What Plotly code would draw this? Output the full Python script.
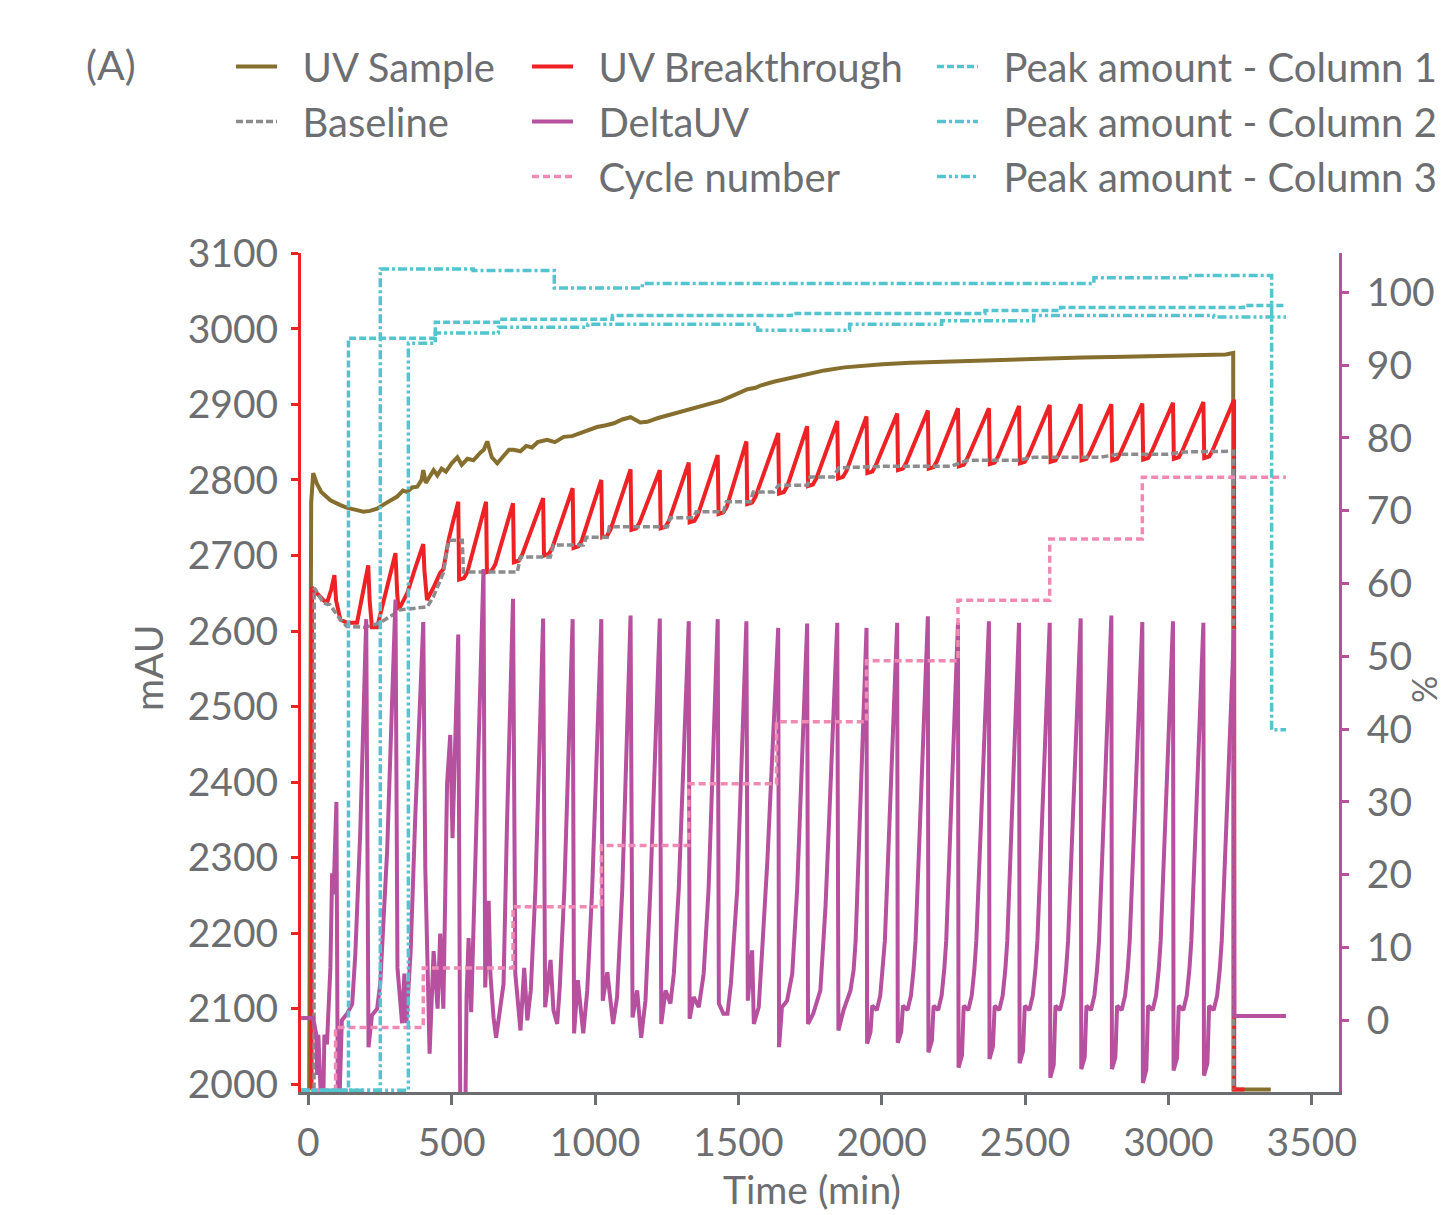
import plotly.graph_objects as go

# ---------------- data ----------------
# UV Sample (mAU, left axis)
uv_t = [3, 6, 10, 17, 30, 45, 77, 110, 136, 170, 192, 215, 240, 265, 286, 310, 330, 345, 362, 380,
        395, 401, 410, 425, 437, 450, 465, 480, 500, 520, 535, 555, 576, 600, 612, 624, 640, 659,
        680, 700, 716, 740, 760, 780, 800, 833, 860, 891, 920, 949, 975, 1007, 1035, 1066, 1095,
        1124, 1158, 1182, 1220, 1250, 1298, 1340, 1392, 1440, 1483, 1510, 1532, 1560, 1577, 1623,
        1680, 1741, 1800, 1870, 1950, 2003, 2100, 2250, 2400, 2550, 2700, 2850, 3000, 3100, 3200,
        3226, 3227, 3357]
uv_v = [1992, 2600, 2770, 2809, 2795, 2784, 2773, 2767, 2763, 2760, 2758, 2759, 2762, 2768, 2773,
        2778, 2786, 2784, 2790, 2791, 2800, 2813, 2796, 2805, 2813, 2806, 2815, 2811, 2822, 2830,
        2820, 2828, 2826, 2836, 2840, 2851, 2830, 2822, 2832, 2840, 2840, 2838, 2845, 2843, 2850,
        2853, 2850, 2857, 2858, 2862, 2865, 2870, 2872, 2875, 2880, 2883, 2876, 2877, 2882, 2885,
        2890, 2895, 2899, 2905, 2912, 2916, 2920, 2922, 2925, 2930, 2935, 2940, 2945, 2949, 2952,
        2953, 2955, 2957, 2959, 2961, 2962, 2963, 2964, 2965, 2966, 2968, 1993, 1993]

# UV Breakthrough (mAU, left axis)
bt_t = [11, 13, 22, 35, 52, 65, 80, 91, 97, 112, 135, 170, 190, 209, 214, 222, 240, 262, 275, 304,
        310, 315, 330, 345, 370, 401, 405, 414, 437, 460, 471, 489, 505,
        523, 526, 543, 555,
        620, 623, 640, 652,
        714, 717, 734, 746,
        819, 822, 839, 851,
        922, 925, 942, 954,
        1022, 1025, 1042, 1054,
        1124, 1127, 1144, 1156,
        1226, 1229, 1246, 1258,
        1327, 1330, 1347, 1359,
        1428, 1431, 1448, 1460,
        1528, 1531, 1548, 1560,
        1639, 1642, 1659, 1671,
        1740, 1743, 1760, 1772,
        1845, 1848, 1865, 1877,
        1947, 1950, 1967, 1979,
        2054, 2057, 2074, 2086,
        2161, 2164, 2181, 2193,
        2266, 2269, 2286, 2298,
        2374, 2377, 2394, 2406,
        2479, 2482, 2499, 2511,
        2586, 2589, 2606, 2618,
        2694, 2697, 2714, 2726,
        2801, 2804, 2821, 2833,
        2909, 2912, 2929, 2941,
        3016, 3019, 3036, 3048,
        3122, 3125, 3142, 3154,
        3229, 3229.5, 3265]
bt_v = [1993, 2658, 2652, 2648, 2641, 2637, 2655, 2674, 2640, 2615, 2611, 2611, 2650, 2687, 2640,
        2605, 2605, 2640, 2660, 2703, 2650, 2628, 2639, 2650, 2680, 2715, 2680, 2641, 2658, 2677,
        2682, 2720, 2745,
        2771, 2668, 2670, 2678,
        2771, 2678, 2680, 2688,
        2769, 2691, 2693, 2701,
        2776, 2700, 2702, 2710,
        2789, 2710, 2712, 2720,
        2800, 2724, 2726, 2734,
        2814, 2734, 2736, 2744,
        2813, 2736, 2738, 2746,
        2823, 2744, 2746, 2754,
        2833, 2755, 2757, 2765,
        2851, 2768, 2770, 2778,
        2862, 2782, 2784, 2792,
        2871, 2792, 2794, 2802,
        2878, 2802, 2804, 2812,
        2884, 2809, 2811, 2819,
        2888, 2813, 2815, 2823,
        2892, 2815, 2817, 2825,
        2895, 2818, 2820, 2828,
        2895, 2821, 2823, 2831,
        2898, 2822, 2824, 2832,
        2899, 2824, 2826, 2834,
        2900, 2826, 2828, 2836,
        2900, 2826, 2828, 2836,
        2901, 2827, 2829, 2837,
        2902, 2828, 2830, 2838,
        2903, 2829, 2831, 2839,
        2906, 1993, 1993]

# Baseline (mAU, left axis)
base_t = [20, 20.5, 30, 52, 75, 112, 135, 200, 251, 321, 415, 436, 471, 489, 537, 541, 729, 740,
          844, 855, 960, 970, 1043, 1050, 1253, 1263, 1343, 1353, 1448, 1458, 1542, 1552, 1623,
          1640, 1741, 1750, 1832, 1850, 2006, 2240, 2300, 2474, 2530, 2763, 2823, 2997, 3053,
          3227, 3227.5]
base_v = [1993, 2657, 2652, 2637, 2635, 2615, 2606, 2605, 2611, 2628, 2632, 2645, 2677, 2720, 2720,
          2678, 2678, 2698, 2698, 2714, 2714, 2724, 2724, 2738, 2738, 2750, 2750, 2758, 2758, 2771,
          2771, 2784, 2784, 2793, 2793, 2804, 2804, 2816, 2818, 2818, 2826, 2826, 2830, 2830, 2834,
          2834, 2837, 2838, 1993]

# DeltaUV (%, right axis)
duv_t = [-25, 17, 28, 31, 35, 45, 52, 56, 65, 77, 83, 88, 98, 103, 108, 117, 135, 153, 164, 181,
         202, 210, 222, 240, 251, 275, 304, 311, 327, 335, 342, 357, 373, 401, 408, 423, 437, 451,
         460, 471, 484, 495, 503, 523, 530, 548, 552, 559, 568, 576, 589, 611, 617, 629, 635, 646,
         655, 670, 681, 693, 714, 722, 740, 753, 764, 776, 792, 819, 826, 845, 855, 868, 877, 893,
         922, 927, 940, 959, 973, 990, 1022, 1027, 1043, 1063, 1077, 1095, 1124, 1131, 1147, 1161,
         1176, 1193, 1226, 1231, 1246, 1263, 1275, 1292, 1327, 1330, 1344, 1362, 1379, 1396, 1428,
         1432, 1448, 1462, 1474, 1496, 1528, 1533, 1548, 1554, 1571, 1583, 1601, 1639, 1642, 1652,
         1670, 1688, 1705, 1740, 1743, 1761, 1786, 1804, 1845, 1849, 1867, 1891, 1902, 1909,
         1947, 1949, 1961, 1967, 1983, 1995, 2004, 2011,
         2054, 2056, 2068, 2074, 2090, 2102, 2111, 2118,
         2161, 2163, 2175, 2181, 2197, 2209, 2218, 2225,
         2266, 2268, 2280, 2286, 2302, 2314, 2323, 2330,
         2374, 2376, 2388, 2394, 2410, 2422, 2431, 2438,
         2479, 2481, 2493, 2499, 2515, 2527, 2536, 2543,
         2586, 2588, 2600, 2606, 2622, 2634, 2643, 2650,
         2694, 2696, 2708, 2714, 2730, 2742, 2751, 2758,
         2801, 2803, 2815, 2821, 2837, 2849, 2858, 2865,
         2909, 2911, 2923, 2929, 2945, 2957, 2966, 2973,
         3016, 3018, 3030, 3036, 3052, 3064, 3073, 3080,
         3122, 3124, 3136, 3142, 3158, 3170, 3179, 3186,
         3229, 3230, 3410]
duv_v = [0.3, 0.3, -2.0, -7.5, -2.0, -12, -12, -2.0, -3.3, 7.2, 20.2, 17.3, 30.0, -12, -12, 0.0,
         0.9, 2.2, 9.1, 25.7, 55.1, -3.7, 0.7, 1.6, 5.1, 23.3, 57.8, 7.2, -0.4, 6.4, -0.4, 9.5,
         27.9, 54.7, 21.0, -4.6, 9.5, 1.6, 11.9, 1.6, 32.5, 39.2, 25.0, 53.0, -12, -12, 3.2, 11.3,
         1.1, 13.4, 31.6, 62.0, 4.5, 16.4, 6.4, 0.4, -2.4, 1.8, 5.0, 27.0, 57.9, 6.4, -1.4, 7.2,
         0.0, 4.1, 17.9, 55.2, 1.8, 8.3, 1.4, -0.5, 4.5, 17.9, 55.1, -1.8, 5.5, -1.8, 4.1, 17.9,
         55.1, 2.7, 6.6, -0.5, 3.2, 17.9, 55.6, 0.4, 4.1, -2.4, 2.7, 17.9, 55.2, -0.5, 4.1, 2.3,
         6.4, 17.9, 54.8, 0.2, 3.2, 1.8, 6.4, 17.9, 55.1, 2.3, 0.9, 0.9, 5.0, 17.9, 54.8, 2.7, 9.6,
         -0.5, 1.8, 9.6, 21.8, 53.9, -3.7, 1.8, 2.7, 6.4, 17.9, 54.5, -0.5, 0.9, 4.1, 15.6, 54.6,
         -1.4, 1.4, 4.1, 6.9, 10.9,
         53.9, -3.2, -1.6, 2.0, 1.4, 3.4, 6.9, 10.9,
         54.6, -3.1, -1.6, 2.0, 1.4, 3.4, 6.9, 10.9,
         55.5, -4.4, -2.8, 2.0, 1.4, 3.4, 6.9, 10.9,
         54.6, -6.5, -4.8, 2.0, 1.4, 3.4, 6.9, 10.9,
         54.8, -5.3, -3.6, 2.0, 1.4, 3.4, 6.9, 10.9,
         54.6, -5.9, -4.2, 2.0, 1.4, 3.4, 6.9, 10.9,
         54.6, -7.9, -6.1, 2.0, 1.4, 3.4, 6.9, 10.9,
         55.2, -6.7, -5.1, 2.0, 1.4, 3.4, 6.9, 10.9,
         55.6, -6.7, -5.1, 2.0, 1.4, 3.4, 6.9, 10.9,
         54.7, -8.6, -6.8, 2.0, 1.4, 3.4, 6.9, 10.9,
         54.8, -6.9, -5.2, 2.0, 1.4, 3.4, 6.9, 10.9,
         54.6, -7.6, -5.9, 2.0, 1.4, 3.4, 6.9, 10.9,
         53.6, 0.6, 0.6]

# Cycle number (right axis, step line)
cyc_t = [-25, 95, 95, 401, 401, 714, 714, 1022, 1022, 1327, 1327, 1633, 1633, 1947, 1947, 2266,
         2266, 2586, 2586, 2909, 2909, 3410]
cyc_v = [-9.6, -9.6, -1.0, -1.0, 7.2, 7.2, 15.6, 15.6, 24.0, 24.0, 32.5, 32.5, 41.0, 41.0, 49.4,
         49.4, 57.7, 57.7, 66.1, 66.1, 74.6, 74.6]

# Peak amounts (%, right axis, step lines)
col1_t = [-25, 140, 140, 443, 443, 663, 663, 1061, 1061, 1685, 1685, 2360, 2360, 2624, 2624, 3262,
          3262, 3410]
col1_v = [-9.6, -9.6, 93.7, 93.7, 95.9, 95.9, 96.3, 96.3, 96.8, 96.8, 97.1, 97.1, 97.5, 97.5,
          97.9, 97.9, 98.2, 98.2]
col2_t = [-25, 251, 251, 575, 575, 858, 858, 1165, 1165, 2740, 2740, 3070, 3070, 3360, 3360, 3410]
col2_v = [-9.6, -9.6, 103.2, 103.2, 103.0, 103.0, 100.6, 100.6, 101.2, 101.2, 102.0, 102.0, 102.3,
          102.3, 39.9, 39.9]
col3_t = [-25, 349, 349, 443, 443, 663, 663, 975, 975, 1567, 1567, 1888, 1888, 2209, 2209, 2530,
          2530, 3158, 3158, 3410]
col3_v = [-9.6, -9.6, 93.0, 93.0, 94.4, 94.4, 95.2, 95.2, 95.6, 95.6, 94.8, 94.8, 95.6, 95.6,
          96.1, 96.1, 96.8, 96.8, 96.6, 96.6]

x_ticks = [0, 500, 1000, 1500, 2000, 2500, 3000, 3500]
y_ticks = [2000, 2100, 2200, 2300, 2400, 2500, 2600, 2700, 2800, 2900, 3000, 3100]
y2_ticks = [0, 10, 20, 30, 40, 50, 60, 70, 80, 90, 100]

# ---------------- style ----------------
TXT = "#6D6E71"
OLIVE = "#866F2E"
RED = "#EE2225"
GRAY = "#8C8C8E"
MAG = "#B7509E"
PINK = "#F08AB4"
CYAN = "#54C4CE"
FONT = "Lato"
LW = 4
DW = 3.5
GAP = "\u00a0\u00a0"   # small gap between legend symbol and its label

fig = go.Figure()
fig.add_trace(go.Scatter(x=uv_t, y=uv_v, name=GAP + "UV Sample", mode="lines",
                         line=dict(color=OLIVE, width=LW), legend="legend"))
fig.add_trace(go.Scatter(x=bt_t, y=bt_v, name=GAP + "UV Breakthrough", mode="lines",
                         line=dict(color=RED, width=LW), legend="legend2"))
fig.add_trace(go.Scatter(x=base_t, y=base_v, name=GAP + "Baseline", mode="lines",
                         line=dict(color=GRAY, width=DW, dash="7px,3px"), legend="legend"))
fig.add_trace(go.Scatter(x=duv_t, y=duv_v, name=GAP + "DeltaUV", mode="lines", yaxis="y2",
                         line=dict(color=MAG, width=LW), legend="legend2"))
fig.add_trace(go.Scatter(x=cyc_t, y=cyc_v, name=GAP + "Cycle number", mode="lines", yaxis="y2",
                         line=dict(color=PINK, width=DW, dash="7px,4px"), legend="legend2"))
fig.add_trace(go.Scatter(x=col1_t, y=col1_v, name=GAP + "Peak amount - Column 1", mode="lines",
                         yaxis="y2", line=dict(color=CYAN, width=DW, dash="7px,3px"),
                         legend="legend3"))
fig.add_trace(go.Scatter(x=col2_t, y=col2_v, name=GAP + "Peak amount - Column 2", mode="lines",
                         yaxis="y2", line=dict(color=CYAN, width=DW, dash="9px,3px,3px,3px"),
                         legend="legend3"))
fig.add_trace(go.Scatter(x=col3_t, y=col3_v, name=GAP + "Peak amount - Column 3", mode="lines",
                         yaxis="y2",
                         line=dict(color=CYAN, width=DW, dash="9px,3px,3px,3px,3px,3px"),
                         legend="legend3"))

# page body adds an 8px offset; geometry below is expressed in screen pixels minus that offset
S = 8
W, H = 1448, 1215
L, T = 301 - S, 253 - S
PW, PH = 1038, 839
R, B = W - L - PW, H - T - PH


def px(xs):
    return (xs - S - L) / PW


def py(ys):
    return (T + PH - (ys - S)) / PH


legend_common = dict(font=dict(family=FONT, size=40, color=TXT), bgcolor="rgba(0,0,0,0)",
                     orientation="v", xref="container", yref="container",
                     xanchor="left", yanchor="top", itemwidth=41, tracegroupgap=0,
                     traceorder="normal")
LEG_TOP = 1 - 26 / H

fig.update_layout(
    width=W, height=H,
    margin=dict(l=L, r=R, t=T, b=B, autoexpand=False),
    paper_bgcolor="white", plot_bgcolor="white",
    font=dict(family=FONT, size=39, color=TXT),
    showlegend=True,
    xaxis=dict(range=[-25.5, 3595], tickvals=x_ticks, showgrid=False, zeroline=False,
               showline=True, linecolor=TXT, linewidth=3, ticks="outside", ticklen=10,
               tickwidth=3, tickcolor=TXT, tickfont=dict(family=FONT, size=39, color=TXT),
               ticklabelstandoff=4),
    yaxis=dict(range=[1989.8, 3100.4], tickvals=y_ticks, showgrid=False, zeroline=False,
               showline=True, linecolor=RED, linewidth=3, ticks="outside", ticklen=7,
               tickwidth=3, tickcolor=RED, tickfont=dict(family=FONT, size=39, color=TXT),
               ticklabelstandoff=5),
    yaxis2=dict(range=[-9.85, 105.4], tickvals=y2_ticks, overlaying="y", side="right",
                showgrid=False, zeroline=False, showline=True, linecolor=MAG, linewidth=3,
                ticks="outside", ticklen=7, tickwidth=3, tickcolor=MAG,
                tickfont=dict(family=FONT, size=39, color=TXT), ticklabelstandoff=10),
    legend=dict(x=(236 - 5 - S) / W, y=LEG_TOP, **legend_common),
    legend2=dict(x=(532 - 5 - S) / W, y=LEG_TOP, **legend_common),
    legend3=dict(x=(937 - 5 - S) / W, y=LEG_TOP, **legend_common),
    annotations=[
        dict(text="(A)", x=px(111), y=py(64), xref="paper", yref="paper", showarrow=False,
             font=dict(family=FONT, size=41, color=TXT), xanchor="center", yanchor="middle"),
        dict(text="mAU", x=px(148), y=py(668), xref="paper", yref="paper", showarrow=False,
             textangle=-90, font=dict(family=FONT, size=39, color=TXT),
             xanchor="center", yanchor="middle"),
        dict(text="%", x=px(1423), y=py(690), xref="paper", yref="paper", showarrow=False,
             textangle=-90, font=dict(family=FONT, size=34, color=TXT),
             xanchor="center", yanchor="middle"),
        dict(text="Time (min)", x=px(812), y=py(1189), xref="paper", yref="paper",
             showarrow=False, font=dict(family=FONT, size=39, color=TXT),
             xanchor="center", yanchor="middle"),
    ],
)

fig.write_html("out.html")
